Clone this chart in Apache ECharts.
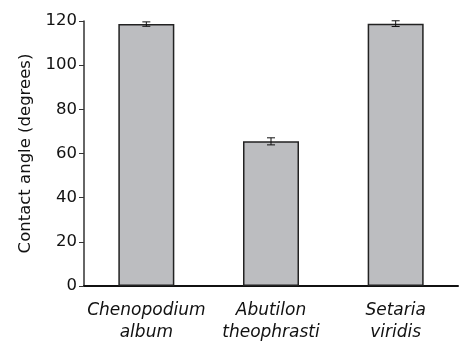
<!DOCTYPE html>
<html>
<head>
<meta charset="utf-8">
<script src="https://cdn.jsdelivr.net/npm/echarts@6/dist/echarts.min.js"></script>
<style>html,body{margin:0;padding:0;background:#fff}#c{width:463px;height:344px}</style>
</head>
<body>
<div id="c"></div>
<script>
var categories = ['Chenopodium\nalbum', 'Abutilon\ntheophrasti', 'Setaria\nviridis'];
var meanValues = [118.6, 65.5, 118.8];
var errorValues = [1.0, 1.6, 1.3];
var yTicks = [0, 20, 40, 60, 80, 100, 120];

var chart = echarts.init(document.getElementById('c'));
var errData = meanValues.map(function (v, i) { return [i, v - errorValues[i], v + errorValues[i]]; });
chart.setOption({
  animation: false,
  grid: { left: 84, right: 5, top: 21, bottom: 57 },
  xAxis: {
    type: 'category',
    data: categories,
    axisLine: { lineStyle: { color: '#111', width: 2 } },
    axisTick: { alignWithLabel: true, length: 4, lineStyle: { color: '#333', width: 1 } },
    axisLabel: { fontFamily: 'DejaVu Sans', fontStyle: 'italic', fontSize: 17, color: '#111', lineHeight: 22, margin: 14, interval: 0 }
  },
  yAxis: {
    type: 'value',
    min: yTicks[0], max: yTicks[yTicks.length - 1], interval: 20,
    name: 'Contact angle (degrees)',
    nameLocation: 'middle',
    nameGap: 44,
    nameTextStyle: { fontFamily: 'DejaVu Sans', fontSize: 16.5, color: '#111' },
    axisLine: { show: true, lineStyle: { color: '#333', width: 1.5 } },
    axisTick: { show: true, length: 5, lineStyle: { color: '#333', width: 1 } },
    axisLabel: { fontFamily: 'DejaVu Sans', fontSize: 16.5, color: '#111', margin: 7 },
    splitLine: { show: false }
  },
  series: [{
    type: 'bar',
    data: meanValues,
    barWidth: 56,
    itemStyle: { color: '#bcbdc0', borderColor: '#222', borderWidth: 1.5 }
  }, {
    type: 'custom',
    data: errData,
    z: 10,
    renderItem: function (params, api) {
      var x = api.value(0);
      var lo = api.coord([x, api.value(1)]);
      var hi = api.coord([x, api.value(2)]);
      var w = 4;
      var st = { stroke: '#111', lineWidth: 1 };
      return {
        type: 'group',
        children: [
          { type: 'line', shape: { x1: hi[0], y1: hi[1], x2: lo[0], y2: lo[1] }, style: st },
          { type: 'line', shape: { x1: hi[0] - w, y1: hi[1], x2: hi[0] + w, y2: hi[1] }, style: st },
          { type: 'line', shape: { x1: lo[0] - w, y1: lo[1], x2: lo[0] + w, y2: lo[1] }, style: st }
        ]
      };
    }
  }]
});
</script>
</body>
</html>
